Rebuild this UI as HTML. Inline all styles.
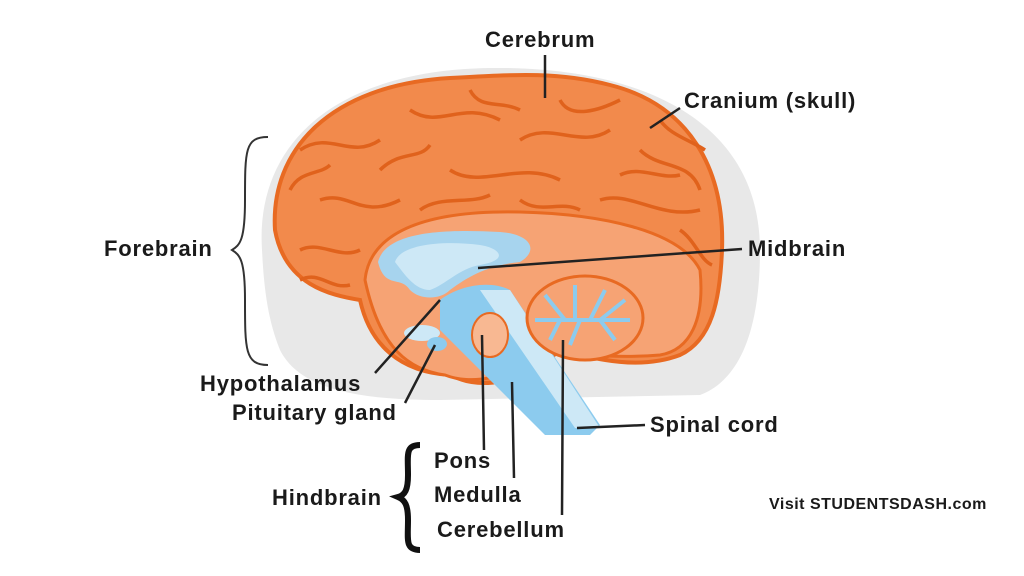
<!DOCTYPE html><html><head><style>body{margin:0;background:#fff}svg{display:block}text{font-family:"Liberation Sans",sans-serif;font-weight:bold;font-size:22px;letter-spacing:0.8px;fill:#1a1a1a}</style></head><body>
<svg width="1024" height="576" viewBox="0 0 1024 576">
<path d="M262,250 C255,140 340,70 490,68 C640,66 760,120 760,250 C760,330 740,380 700,395 L440,400 C360,400 300,390 280,350 C268,320 264,290 262,250Z" fill="#e8e8e8"/>
<path d="M275,230 C270,150 330,85 450,78 C520,74 560,72 610,85 C690,105 725,170 722,250 C720,300 712,340 680,355 C640,370 600,360 560,350 C520,385 480,390 450,375 C400,372 370,345 360,300 C330,295 285,285 275,230Z" fill="#f28a4c" stroke="#e86a22" stroke-width="4"/>
<g stroke="#e0621c" stroke-width="3.5" fill="none">
<path d="M300,150 C330,130 350,160 380,140 M320,200 C350,190 360,220 400,200 M410,110 C440,130 460,100 500,120 M520,140 C550,120 580,150 610,130 M640,150 C660,170 690,160 700,190 M450,170 C480,190 520,160 560,180 M600,200 C630,190 660,220 700,210 M300,250 C320,240 340,260 360,250 M290,190 C300,170 320,175 330,165 M380,170 C400,150 420,160 430,145 M470,90 C480,110 500,100 520,110 M560,100 C570,120 600,110 620,100 M660,120 C670,135 690,140 705,150 M420,210 C440,195 470,205 490,195 M520,200 C540,215 560,200 580,210 M620,175 C640,165 660,180 680,175 M680,230 C695,240 700,260 712,265 M300,280 C320,270 330,290 350,285"/>
</g>
<path d="M365,280 C370,230 430,210 520,212 C600,214 680,230 700,270 C705,320 690,350 660,355 C600,360 560,350 540,350 C510,380 470,385 445,375 C410,370 380,350 365,280Z" fill="#f6a374" stroke="#e86a22" stroke-width="3"/>
<path d="M378,262 C385,235 430,228 500,232 C530,234 540,250 520,262 C490,265 470,275 450,290 C440,300 420,300 410,290 C400,275 385,290 378,262Z" fill="#a7d4ee"/>
<path d="M395,262 C400,245 440,240 480,245 C500,248 510,260 480,265 C460,268 445,285 430,290 C415,290 405,275 395,262Z" fill="#cde8f6"/>
<path d="M440,300 C460,285 490,280 510,290 L600,425 L590,435 L545,435 L440,330Z" fill="#8ccbee"/>
<path d="M480,290 L510,290 L600,428 L575,428Z" fill="#cde8f6"/>
<ellipse cx="585" cy="318" rx="58" ry="42" fill="#f6a374" stroke="#e86a22" stroke-width="3"/>
<g stroke="#8ccbee" stroke-width="4" fill="none"><path d="M535,320 L630,320 M565,320 L545,295 M575,320 L575,285 M590,320 L605,290 M600,320 L625,300 M580,320 L570,345 M600,320 L615,340 M560,320 L550,340"/></g>
<ellipse cx="490" cy="335" rx="18" ry="22" fill="#f8b892" stroke="#e86a22" stroke-width="2"/>
<ellipse cx="422" cy="333" rx="18" ry="8" fill="#cde8f6"/>
<ellipse cx="437" cy="344" rx="10" ry="7" fill="#8ccbee"/>
<g stroke="#222" stroke-width="2.5" fill="none">
<path d="M545,55 L545,98 M680,108 L650,128 M742,249 L478,268 M375,373 L440,300 M405,403 L435,345 M482,335 L484,450 M512,382 L514,478 M563,340 L562,515 M577,428 L645,425"/>
</g>
<path d="M268,137 C245,137 245,150 245,200 C245,240 240,245 232,250 C240,255 245,260 245,300 C245,350 245,365 268,365" stroke="#333" stroke-width="2" fill="none"/>
<path d="M420,445 C405,445 408,455 408,475 C408,490 405,495 398,497 C405,500 408,505 408,520 C408,540 405,550 420,550" stroke="#111" stroke-width="6" fill="none"/>
<text x="485" y="47">Cerebrum</text>
<text x="684" y="108">Cranium (skull)</text>
<text x="104" y="256">Forebrain</text>
<text x="748" y="256">Midbrain</text>
<text x="200" y="391">Hypothalamus</text>
<text x="232" y="420">Pituitary gland</text>
<text x="650" y="432">Spinal cord</text>
<text x="434" y="468">Pons</text>
<text x="434" y="502">Medulla</text>
<text x="437" y="537">Cerebellum</text>
<text x="272" y="505">Hindbrain</text>
<text x="769" y="509" style="font-size:16px;letter-spacing:0.5px">Visit STUDENTSDASH.com</text>
</svg></body></html>
